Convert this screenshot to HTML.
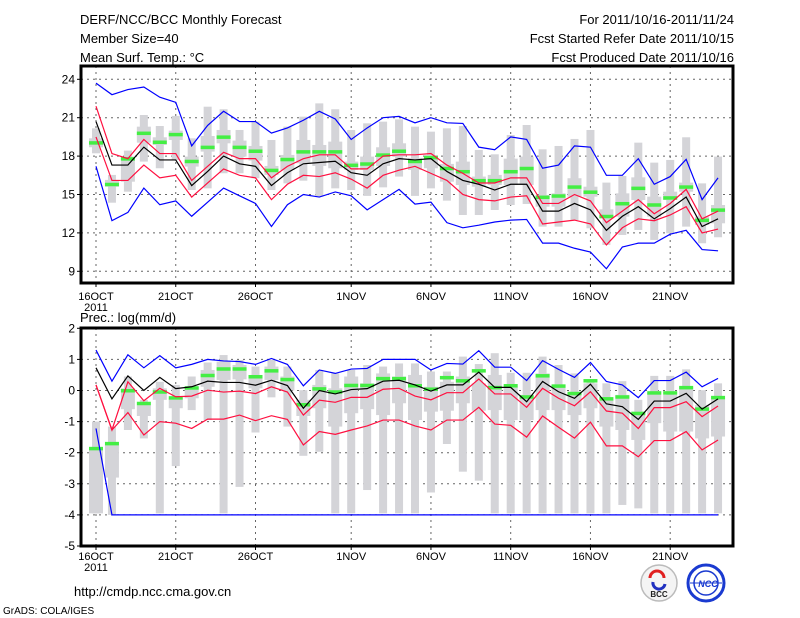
<!DOCTYPE html>
<html><head><meta charset="utf-8">
<style>
html,body{margin:0;padding:0;background:#fff;}
svg{display:block;font-family:"Liberation Sans",sans-serif;}
</style></head>
<body>
<svg id="chart" width="800" height="618" viewBox="0 0 800 618" xmlns="http://www.w3.org/2000/svg">
<g font-size="13" fill="#000">
<text x="80" y="24">DERF/NCC/BCC Monthly Forecast</text>
<text x="80" y="43">Member Size=40</text>
<text x="80" y="62">Mean Surf. Temp.: °C</text>
<text x="734" y="24" text-anchor="end">For 2011/10/16-2011/11/24</text>
<text x="734" y="43" text-anchor="end">Fcst Started Refer Date 2011/10/15</text>
<text x="734" y="62" text-anchor="end">Fcst Produced Date 2011/10/16</text>
</g>
<g id="top"></g>
<text x="80" y="322" font-size="13">Prec.: log(mm/d)</text>
<g id="bot"></g>
<text x="74" y="596" font-size="13">http://cmdp.ncc.cma.gov.cn</text>
<text x="3" y="614" font-size="10">GrADS: COLA/IGES</text>
<g>
<circle cx="659" cy="583" r="18" fill="#f4f4f4" stroke="#bbb" stroke-width="1.5"/>
<path d="M650 578 a7 7 0 0 1 14 0" fill="none" stroke="#e02020" stroke-width="3"/>
<path d="M653 582 a6 6 0 0 0 12 2" fill="none" stroke="#2030c0" stroke-width="3"/>
<text x="659" y="597" font-size="8" font-weight="bold" text-anchor="middle" fill="#222">BCC</text>
</g>
<g>
<circle cx="706" cy="583" r="18" fill="#fff" stroke="#1a3ad0" stroke-width="3"/>
<circle cx="706" cy="583" r="12" fill="none" stroke="#1a3ad0" stroke-width="1.5"/>
<line x1="690" y1="583" x2="722" y2="583" stroke="#1a3ad0"/>
<text x="708" y="587" font-size="9" font-weight="bold" font-style="italic" text-anchor="middle" fill="#1a3ad0">NCC</text>
</g>
</svg>
<script>
// ---- Temperature data (day index 0 = 16 Oct) ----
const tMax=[23.7,22.8,23.2,23.4,22.6,22.2,18.8,20.4,21.5,20.7,20.7,19.8,20.2,20.8,21.5,20.9,19.3,20.2,21.0,21.1,20.6,21.0,20.6,20.55,18.7,18.5,19.5,19.3,17.05,17.3,18.8,18.7,16.5,16.5,17.8,15.8,16.4,17.75,14.6,16.3];
const tUp=[21.9,18.2,17.8,19.3,18.2,18.2,16.1,17.2,18.3,17.8,17.8,16.3,17.2,17.8,18.1,18.1,17.0,17.0,18.0,18.1,18.1,18.2,17.3,16.65,15.9,15.9,16.3,16.3,14.3,14.3,15.0,14.5,12.8,13.7,14.6,13.5,14.3,15.4,13.1,13.7];
const tMean=[20.7,17.3,17.3,18.7,17.7,17.7,15.7,16.8,18.0,17.4,17.2,15.7,16.7,17.4,17.5,17.6,16.7,16.5,17.4,17.8,17.7,17.8,16.8,16.1,15.8,15.35,15.8,15.8,13.7,13.7,14.3,13.8,12.2,13.3,14.05,13.1,13.9,14.8,12.5,13.1];
const tLow=[19.5,16.1,16.1,17.3,16.3,16.5,14.8,15.9,17.0,16.5,16.3,14.6,15.8,16.5,16.4,16.7,16.2,15.5,16.5,16.9,17.2,16.65,16.1,15.0,14.6,14.5,14.8,14.9,12.7,12.85,13.0,12.7,11.06,12.4,13.1,12.95,13.4,14.05,12.0,12.3];
const tMin=[17.2,12.96,13.6,15.5,14.2,14.5,13.3,14.4,15.5,14.9,14.3,12.5,14.2,15.0,14.8,15.2,14.9,13.8,14.6,15.4,14.25,14.4,12.8,12.4,12.6,12.85,13.0,13.05,11.2,11.2,10.8,10.5,9.2,10.9,11.2,11.2,11.9,12.2,10.7,10.6];
const tObs=[19.05,15.8,17.8,19.8,19.1,19.7,17.6,18.7,19.5,18.7,18.4,16.9,17.75,18.35,18.35,18.35,17.3,17.4,18.1,18.4,17.6,17.9,17.05,16.8,16.1,16.1,16.8,17.05,14.8,14.9,15.6,15.2,13.3,14.3,15.5,14.2,14.75,15.6,13.0,13.8];
const tBarHi=[20.17,16.53,18.43,21.21,20.35,21.14,19.39,21.86,21.66,20.04,20.69,19.26,20.3,21.08,22.12,21.66,20.04,20.56,20.69,20.87,20.3,19.91,20.17,20.35,18.48,18.14,19.65,20.43,18.53,18.79,19.34,20.04,15.93,16.45,19.05,17.49,17.7,19.47,15.87,17.96];
const tBarLo=[18.22,14.36,15.22,17.57,17.05,17.7,15.35,15.48,16.66,16.66,16.27,15.35,15.87,16.08,14.83,15.48,15.35,14.89,15.56,16.4,14.89,15.48,14.52,13.4,13.4,13.79,14.18,14.26,12.49,12.49,13.01,12.36,11.06,11.84,12.23,11.45,11.97,12.49,11.19,11.66];
const tBoxHi=[19.39,16.14,17.96,20.3,19.47,19.99,17.96,19.57,20.04,19.21,18.79,17.23,18.09,19.26,18.87,19.13,17.57,17.96,18.69,19.0,17.83,18.09,17.39,17.57,16.4,16.53,17.8,17.96,14.96,15.09,16.27,15.61,13.84,15.09,16.34,14.83,15.22,15.93,13.27,14.18];
const tBoxLo=[18.69,15.61,16.0,19.05,18.87,19.26,17.18,18.35,19.0,17.96,17.65,16.53,16.92,17.44,17.23,17.05,16.92,16.92,17.23,17.96,16.92,17.05,16.0,15.74,15.61,15.74,15.74,15.74,14.05,14.05,14.83,14.83,13.14,13.27,14.57,13.27,14.57,15.22,12.62,12.75];
const tTicks=[9,12,15,18,21,24];
// ---- Precipitation data ----
const pMax=[1.3,0.3,1.15,0.73,1.12,0.73,0.84,1.0,0.95,0.93,0.84,1.03,0.84,0.15,0.66,0.55,0.69,0.71,1.0,1.0,1.0,0.66,0.87,0.85,1.28,0.75,0.75,0.32,0.96,0.68,0.42,0.9,0.29,0.18,-0.23,0.32,0.32,0.59,0.12,0.39];
const pUp=[0.18,-1.27,0.28,-0.33,0.07,-0.2,-0.18,0.01,-0.05,-0.02,-0.1,0.12,-0.05,-0.79,-0.31,-0.38,-0.22,-0.22,0.04,0.07,-0.18,-0.3,-0.07,-0.07,0.37,-0.11,-0.11,-0.54,0.07,-0.25,-0.49,-0.04,-0.66,-0.73,-1.22,-0.55,-0.55,-0.36,-0.84,-0.5];
const pMean=[0.73,-0.27,0.47,0.0,0.42,0.06,0.12,0.3,0.26,0.26,0.17,0.33,0.16,-0.57,0.0,-0.11,0.03,0.06,0.3,0.33,0.18,-0.02,0.18,0.18,0.59,0.1,0.1,-0.36,0.29,-0.04,-0.25,0.2,-0.43,-0.52,-0.93,-0.34,-0.34,-0.09,-0.6,-0.27];
const pLow=[0.18,-1.27,-0.71,-1.43,-1.0,-1.05,-1.22,-0.92,-0.92,-0.79,-0.97,-0.81,-0.93,-1.75,-1.32,-1.41,-1.27,-1.14,-0.95,-0.95,-1.14,-1.27,-0.95,-0.95,-0.54,-1.08,-1.12,-1.5,-0.82,-1.18,-1.53,-1.02,-1.78,-1.78,-2.13,-1.61,-1.61,-1.32,-1.91,-1.59];
const pMin=[-1.22,-4,-4,-4,-4,-4,-4,-4,-4,-4,-4,-4,-4,-4,-4,-4,-4,-4,-4,-4,-4,-4,-4,-4,-4,-4,-4,-4,-4,-4,-4,-4,-4,-4,-4,-4,-4,-4,-4,-4];
const pObs=[-1.86,-1.7,0.0,-0.41,-0.04,-0.23,0.09,0.49,0.7,0.7,0.45,0.64,0.36,-0.45,0.06,-0.04,0.17,0.17,0.39,0.39,0.16,0.05,0.42,0.32,0.64,0.1,0.16,-0.2,0.48,0.15,-0.09,0.32,-0.26,-0.2,-0.73,-0.07,-0.07,0.1,-0.59,-0.22];
const pBarHi=[-1.0,-1.16,0.45,-0.3,0.28,0.18,0.45,0.9,1.14,0.98,0.77,0.98,0.77,0.01,0.66,0.55,0.66,0.82,0.77,0.87,0.87,0.61,0.61,1.09,0.85,1.2,0.57,0.57,1.09,0.82,0.55,0.28,0.23,0.3,-0.3,0.47,0.47,0.68,0.01,0.23];
const pBarLo=[-3.95,-4,-1.27,-1.54,-3.95,-2.43,-0.63,-0.95,-3.95,-3.1,-1.35,-0.22,-1.16,-2.1,-1.97,-3.95,-3.95,-3.2,-3.95,-3.95,-3.95,-3.28,-1.72,-2.61,-2.9,-3.95,-3.95,-3.95,-3.95,-3.95,-3.95,-3.95,-3.95,-3.68,-3.79,-3.95,-3.95,-3.95,-3.95,-3.95];
const pBoxHi=[-1.9,-1.75,0.07,-0.47,0.07,-0.25,0.12,0.66,0.93,0.82,0.5,0.77,0.45,-0.3,0.18,0.07,0.45,0.23,0.55,0.45,0.5,0.12,0.28,0.45,0.23,0.5,0.12,-0.14,0.55,0.18,-0.04,0.23,-0.3,-0.14,-0.68,-0.04,-0.14,0.12,-0.47,-0.25];
const pBoxLo=[-3.95,-2.8,-0.6,-0.82,-0.3,-0.57,-0.25,0.12,0.34,0.36,0.07,0.34,0.0,-0.82,-0.57,-1.16,-0.73,-0.6,-0.79,-0.41,-0.95,-0.68,-0.65,-0.41,-0.65,-0.63,-0.95,-0.95,-0.63,-0.63,-0.79,-0.57,-1.16,-1.27,-1.59,-1.05,-1.32,-1.32,-1.54,-1.48];
const pTicks=[-5,-4,-3,-2,-1,0,1,2];
const xTickDays=[0,5,10,16,21,26,31,36];
const xTickLabels=['16OCT','21OCT','26OCT','1NOV','6NOV','11NOV','16NOV','21NOV'];

const NS='http://www.w3.org/2000/svg';
function mk(parent,tag,attrs){const e=document.createElementNS(NS,tag);for(const k in attrs)e.setAttribute(k,attrs[k]);parent.appendChild(e);return e;}
const xS=d=>96+15.95*d;
const L=81,R=733;

function panel(g,top,bottom,yS,ticks,barHi,barLo,boxHi,boxLo,obs,series,labY,prefix){
  // grid
  ticks.forEach(v=>{const y=yS(v);
    const gl=mk(g,'line',{x1:L,x2:R,y1:y,y2:y,stroke:'#666','stroke-width':1,'stroke-dasharray':'2,4'});
    
    
    mk(g,'line',{x1:L-4,x2:L,y1:y,y2:y,stroke:'#000'});
    const t=mk(g,'text',{x:L-6,y:y+4,'font-size':12,'text-anchor':'end'});t.textContent=v;
    
    
  });
  xTickDays.forEach((d,i)=>{const x=xS(d);
    const gl=mk(g,'line',{x1:x,x2:x,y1:top,y2:bottom,stroke:'#666','stroke-dasharray':'2,4'});
    
    
    mk(g,'line',{x1:x,x2:x,y1:bottom,y2:bottom+4,stroke:'#000'});
    const t=mk(g,'text',{x:x,y:labY,'font-size':11,'text-anchor':'middle'});t.textContent=xTickLabels[i];
    
    
  });
  const yr=mk(g,'text',{x:xS(0),y:labY+11,'font-size':11,'text-anchor':'middle'});yr.textContent='2011';
  
  
  // bars
  barHi.forEach((v,d)=>{const x=xS(d);
    const b=mk(g,'rect',{x:x-4,y:yS(v),width:8,height:yS(barLo[d])-yS(v),fill:'#d4d4d8'});
    
    
    const bx=mk(g,'rect',{x:x-7,y:yS(boxHi[d]),width:14,height:yS(boxLo[d])-yS(boxHi[d]),fill:'#d4d4d8'});
    
    
  });
  obs.forEach((v,d)=>{
    const o=mk(g,'rect',{x:xS(d)-7,y:yS(v)-1.5,width:14,height:3.5,fill:'#44ee44'});
    
    
  });
  series.forEach(s=>{
    const p=mk(g,'polyline',{points:s.v.map((v,d)=>xS(d)+','+yS(v)).join(' '),fill:'none',stroke:s.c,'stroke-width':1.2});
    
    
  });
  const f=mk(g,'rect',{x:L,y:top,width:R-L,height:bottom-top,fill:'none',stroke:'#000','stroke-width':3});
  
  
}
const yT=v=>79.3+(24-v)*12.8;
const yP=v=>328.3+(2-v)*31.1;
panel(document.getElementById('top'),66,283,yT,tTicks,tBarHi,tBarLo,tBoxHi,tBoxLo,tObs,
 [{n:'max-line',v:tMax,c:'#0000ff'},{n:'upper-line',v:tUp,c:'#ff1040'},{n:'mean-line',v:tMean,c:'#000'},{n:'lower-line',v:tLow,c:'#ff1040'},{n:'min-line',v:tMin,c:'#0000ff'}],300,'temp');
panel(document.getElementById('bot'),328,546,yP,pTicks,pBarHi,pBarLo,pBoxHi,pBoxLo,pObs,
 [{n:'max-line',v:pMax,c:'#0000ff'},{n:'upper-line',v:pUp,c:'#ff1040'},{n:'mean-line',v:pMean,c:'#000'},{n:'lower-line',v:pLow,c:'#ff1040'},{n:'min-line',v:pMin,c:'#0000ff'}],560,'prec');
</script>
</body></html>
